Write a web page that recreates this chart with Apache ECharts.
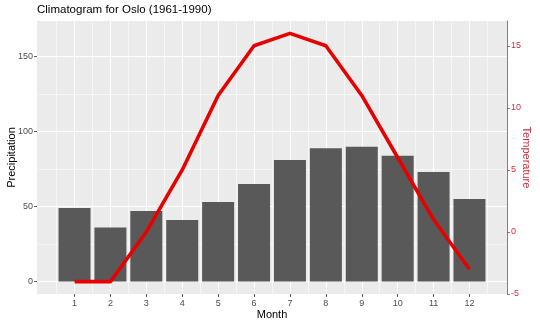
<!DOCTYPE html>
<html>
<head>
<meta charset="utf-8">
<script src="https://cdn.jsdelivr.net/npm/echarts@6/dist/echarts.min.js"></script>
<style>
html,body{margin:0;padding:0;background:#fff;}
#chart{width:540px;height:326px;}
</style>
</head>
<body>
<div id="chart"></div>
<script>
const months = [1,2,3,4,5,6,7,8,9,10,11,12];
const precipitation = [49,36,47,41,53,65,81,89,90,84,73,55];
const temperature = [-4,-4,0,5,11,15,16,15,11,6,1,-3];
const precipTicks = [0,50,100,150];
const precipMinor = [25,75,125];
const tempTicks = [-5,0,5,10,15];
const monthMinor = [0.5,1.5,2.5,3.5,4.5,5.5,6.5,7.5,8.5,9.5,10.5,11.5,12.5];

const FONT = 'Liberation Sans, Arial, sans-serif';
const RED_AXIS = '#C8323F';
const xMin = -0.045, xMax = 13.045;
const pMin = -8.3, pMax = 173.8;
const tMin = -5, tMax = 17.0;

const chart = echarts.init(document.getElementById('chart'), null, {renderer:'canvas'});
chart.setOption({
  animation:false,
  backgroundColor:'#ffffff',
  textStyle:{fontFamily:FONT},
  title:{
    text:'Climatogram for Oslo (1961-1990)',
    left:37, top:4, padding:0,
    textStyle:{fontFamily:FONT,fontSize:11.5,fontWeight:'normal',color:'#000'}
  },
  grid:{left:37,right:33,top:21,bottom:32,show:true,backgroundColor:'#EBEBEB',borderWidth:0,
        containLabel:false,outerBoundsMode:'none'},
  xAxis:[{
    type:'value', min:xMin, max:xMax,
    name:'Month', nameLocation:'middle', nameGap:15, nameMoveOverlap:false,
    nameTextStyle:{fontFamily:FONT,fontSize:11,color:'#000'},
    axisLine:{show:false,onZero:false},
    axisTick:{show:true,length:3,lineStyle:{color:'#333',width:0.8},customValues:months},
    axisLabel:{show:true,customValues:months,fontSize:9,color:'#4D4D4D',margin:5,fontFamily:FONT},
    splitLine:{show:true,lineStyle:{color:'#fff',width:1.1}}
  },{
    type:'value', min:xMin, max:xMax, position:'top',
    axisLine:{show:false,onZero:false},
    axisTick:{show:false,customValues:monthMinor},
    axisLabel:{show:false,customValues:monthMinor},
    splitLine:{show:true,lineStyle:{color:'#fff',width:0.55}}
  }],
  yAxis:[{
    type:'value', min:pMin, max:pMax, position:'left',
    name:'Precipitation', nameLocation:'middle', nameGap:20, nameRotate:90, nameMoveOverlap:false,
    nameTextStyle:{fontFamily:FONT,fontSize:11,color:'#000'},
    axisLine:{show:false,onZero:false},
    axisTick:{show:true,length:3,lineStyle:{color:'#333',width:0.8},customValues:precipTicks},
    axisLabel:{show:true,customValues:precipTicks,fontSize:9,color:'#4D4D4D',margin:4,fontFamily:FONT},
    splitLine:{show:true,lineStyle:{color:'#fff',width:1.1}}
  },{
    type:'value', min:tMin, max:tMax, position:'right',
    name:'Temperature', nameLocation:'middle', nameGap:14, nameRotate:-90, nameMoveOverlap:false,
    nameTextStyle:{fontFamily:FONT,fontSize:11,color:RED_AXIS},
    axisLine:{show:true,onZero:false,lineStyle:{color:RED_AXIS,width:0.8}},
    axisTick:{show:true,length:3,lineStyle:{color:RED_AXIS,width:0.8},customValues:tempTicks},
    axisLabel:{show:true,customValues:tempTicks,fontSize:9,color:RED_AXIS,margin:4,fontFamily:FONT},
    splitLine:{show:false}
  },{
    type:'value', min:pMin, max:pMax, position:'left', offset:0,
    axisLine:{show:false,onZero:false},
    axisTick:{show:false,customValues:precipMinor},
    axisLabel:{show:false,customValues:precipMinor},
    splitLine:{show:true,lineStyle:{color:'#fff',width:0.55}}
  }],
  series:[{
    type:'bar',
    xAxisIndex:0, yAxisIndex:0,
    data:months.map((m,i)=>[m,precipitation[i]]),
    barWidth:32,
    itemStyle:{color:'#595959'},
    silent:true
  },{
    type:'line',
    xAxisIndex:0, yAxisIndex:1,
    data:months.map((m,i)=>[m,temperature[i]]),
    showSymbol:false, symbol:'none',
    lineStyle:{color:'#E60000',width:3.6,join:'round',cap:'butt'},
    itemStyle:{color:'#E60000'},
    silent:true
  }]
});
</script>
</body>
</html>
